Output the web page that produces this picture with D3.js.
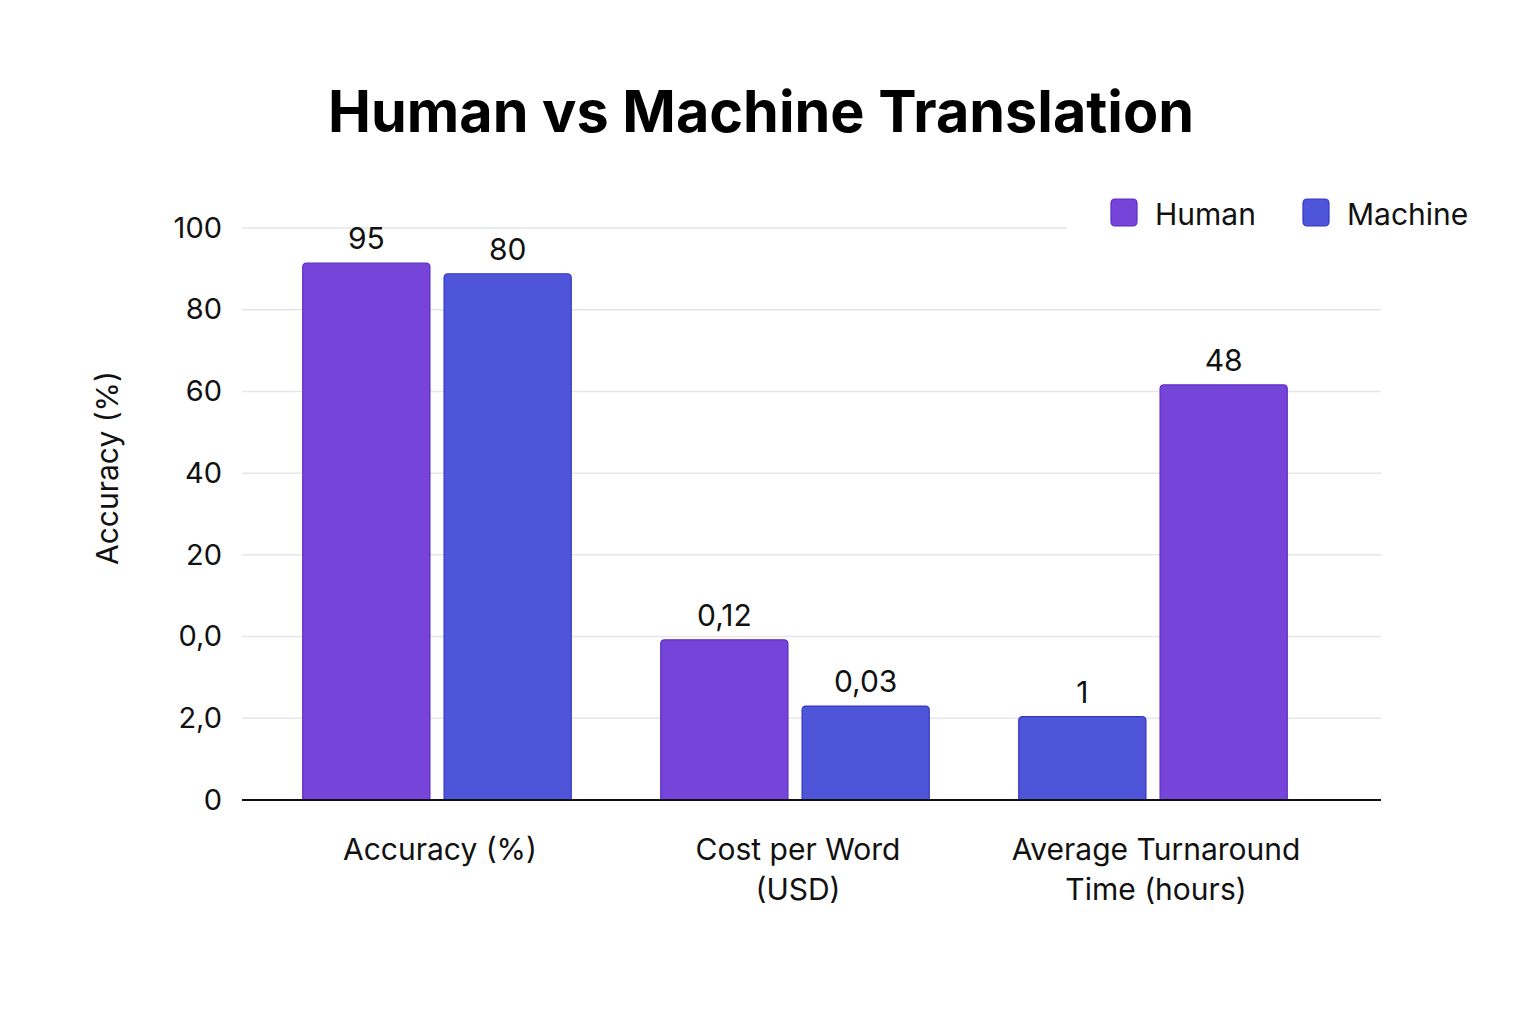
<!DOCTYPE html>
<html>
<head>
<meta charset="utf-8">
<script src="https://cdn.jsdelivr.net/npm/d3@7"></script>
<style>
  body { margin: 0; background: #fff; }
  text { font-family: Inter, "Noto Sans", sans-serif; }
</style>
</head>
<body>
<div id="chart"></div>
<script>
// Chart data
var categories = [["Accuracy (%)"], ["Cost per Word", "(USD)"], ["Average Turnaround", "Time (hours)"]];
var seriesNames = ["Human", "Machine"];
var seriesOrder = [["Human", "Machine"], ["Human", "Machine"], ["Machine", "Human"]];
// printed values on top of bars
var humanLabels = ["95", "0,12", "48"];
var machineLabels = ["80", "0,03", "1"];
// bar heights as drawn, in y-axis tick steps
var humanHeights = [6.57, 1.96, 5.08];
var machineHeights = [6.44, 1.15, 1.02];
// y tick labels as printed, bottom to top
var yTickLabels = ["0", "2,0", "0,0", "20", "40", "60", "80", "100"];

var svgWidth = 1536;
var svgHeight = 1024;
var margin = { top: 228, left: 242, right: 155, bottom: 224 };
var chartWidth = svgWidth - margin.left - margin.right;
var chartHeight = svgHeight - margin.top - margin.bottom;

var colors = { Human: "#7744d9", Machine: "#4f55d8" };
var strokes = { Human: "#5b2cc4", Machine: "#3437c4" };

var svg = d3.select("#chart")
  .append("svg")
  .attr("width", svgWidth)
  .attr("height", svgHeight);

svg.append("text")
  .attr("x", 761)
  .attr("y", 132)
  .attr("text-anchor", "middle")
  .attr("font-size", "57.5px")
  .attr("font-weight", 700)
  .attr("fill", "#000")
  .text("Human vs Machine Translation");

var chartGroup = svg.append("g")
  .attr("transform", `translate(${margin.left}, ${margin.top})`);

var yScale = d3.scaleLinear()
  .domain([0, yTickLabels.length - 1])
  .range([chartHeight, 0]);

var x0 = d3.scaleBand()
  .domain(d3.range(categories.length))
  .range([16, 1090])
  .paddingInner(0.25)
  .paddingOuter(0.125);

var x1 = d3.scaleBand()
  .domain([0, 1])
  .range([0, x0.bandwidth()])
  .paddingInner(0.1);

// gridlines
var ticks = d3.range(yTickLabels.length);
chartGroup.selectAll(".grid")
  .data(ticks.filter(t => t > 0))
  .enter()
  .append("line")
  .attr("class", "grid")
  .attr("x1", 0)
  .attr("x2", d => d === ticks.length - 1 ? 825 : chartWidth)
  .attr("y1", d => yScale(d))
  .attr("y2", d => yScale(d))
  .attr("stroke", "#e6e6e6")
  .attr("stroke-width", 1.5);

// y axis labels
var leftAxis = d3.axisLeft(yScale)
  .tickValues(ticks)
  .tickFormat(d => yTickLabels[d])
  .tickSize(0)
  .tickPadding(20);

var yAxisG = chartGroup.append("g").call(leftAxis);
yAxisG.select(".domain").remove();
yAxisG.selectAll("text")
  .attr("font-size", "29px")
  .attr("fill", "#111")
  .style("font-family", "Inter, sans-serif");

// bars
var barData = [];
categories.forEach(function(c, i) {
  seriesOrder[i].forEach(function(s, j) {
    barData.push({
      cat: i,
      pos: j,
      series: s,
      h: s === "Human" ? humanHeights[i] : machineHeights[i],
      label: s === "Human" ? humanLabels[i] : machineLabels[i]
    });
  });
});

function topRounded(x, y, w, h, r) {
  return `M${x},${y + h}V${y + r}Q${x},${y} ${x + r},${y}H${x + w - r}Q${x + w},${y} ${x + w},${y + r}V${y + h}Z`;
}

chartGroup.selectAll(".bar")
  .data(barData)
  .enter()
  .append("path")
  .attr("class", "bar")
  .attr("d", d => topRounded(x0(d.cat) + x1(d.pos), yScale(d.h), x1.bandwidth(), chartHeight - yScale(d.h), 4))
  .attr("fill", d => colors[d.series])
  .attr("stroke", d => strokes[d.series])
  .attr("stroke-width", 1.2);

chartGroup.selectAll(".barlabel")
  .data(barData)
  .enter()
  .append("text")
  .attr("class", "barlabel")
  .attr("x", d => x0(d.cat) + x1(d.pos) + x1.bandwidth() / 2)
  .attr("y", d => yScale(d.h) - 14)
  .attr("text-anchor", "middle")
  .attr("font-size", "30px")
  .attr("fill", "#111")
  .text(d => d.label);

// baseline
chartGroup.append("line")
  .attr("x1", 0)
  .attr("x2", chartWidth)
  .attr("y1", chartHeight)
  .attr("y2", chartHeight)
  .attr("stroke", "#111")
  .attr("stroke-width", 2);

// category labels
var catLabels = chartGroup.selectAll(".cat")
  .data(categories)
  .enter()
  .append("text")
  .attr("class", "cat")
  .attr("text-anchor", "middle")
  .attr("font-size", "30px")
  .attr("fill", "#111")
  .attr("transform", (d, i) => `translate(${x0(i) + x0.bandwidth() / 2 + 3}, ${chartHeight + 60})`);

catLabels.selectAll("tspan")
  .data(d => d)
  .enter()
  .append("tspan")
  .attr("x", 0)
  .attr("dy", (d, i) => i === 0 ? 0 : 40)
  .text(d => d);

// y axis title
svg.append("text")
  .attr("transform", "translate(118, 468) rotate(-90)")
  .attr("text-anchor", "middle")
  .attr("font-size", "30px")
  .attr("fill", "#111")
  .text("Accuracy (%)");

// legend
var legend = svg.append("g")
  .selectAll("g")
  .data(seriesNames)
  .enter()
  .append("g")
  .attr("transform", (d, i) => `translate(${1111 + i * 192}, 199)`);

legend.append("rect")
  .attr("width", 26)
  .attr("height", 27)
  .attr("rx", 4)
  .attr("fill", d => colors[d])
  .attr("stroke", d => strokes[d])
  .attr("stroke-width", 1.2);

legend.append("text")
  .attr("x", 44)
  .attr("y", 26)
  .attr("font-size", "30px")
  .attr("fill", "#111")
  .text(d => d);
</script>
</body>
</html>
